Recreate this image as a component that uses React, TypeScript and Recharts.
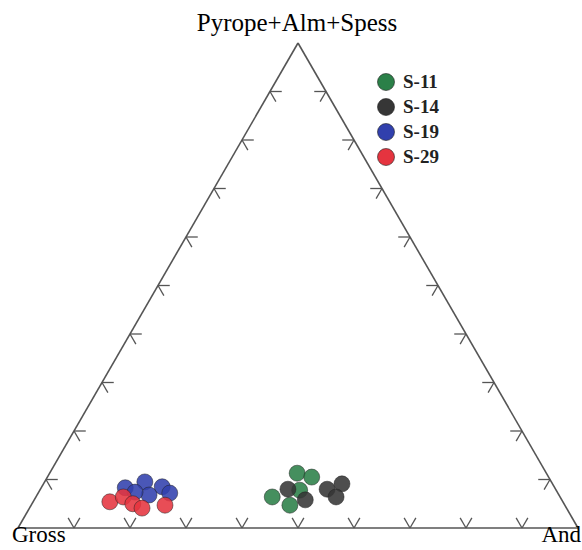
import React from "react";
import { ReferenceLine, Scatter, ScatterChart, XAxis, YAxis } from "recharts";

// ternary compositions: [Pyrope+Alm+Spess, Gross, And] in %
const S11: number[][] = [
  [11.3, 44.5, 44.2],
  [10.5, 42.3, 47.2],
  [6.4, 51.4, 42.2],
  [4.7, 49.1, 46.2],
  [7.8, 45.8, 46.4],
];
const S14: number[][] = [
  [8.0, 47.8, 44.2],
  [5.8, 45.8, 48.4],
  [8.0, 40.8, 51.2],
  [9.1, 37.6, 53.3],
  [6.4, 40.0, 53.6],
];
const S19: number[][] = [
  [8.3, 76.7, 15.0],
  [9.5, 72.6, 17.9],
  [8.5, 70.0, 21.5],
  [7.2, 69.3, 23.5],
  [6.8, 73.2, 20.0],
  [7.4, 75.4, 17.2],
];
const S29: number[][] = [
  [5.4, 80.9, 13.7],
  [6.4, 78.0, 15.6],
  [5.0, 77.0, 18.0],
  [4.1, 75.8, 20.1],
  [4.7, 71.4, 23.9],
];

const TICKS = [0.1, 0.2, 0.3, 0.4, 0.5, 0.6, 0.7, 0.8, 0.9];
const APEX_LABEL = "Pyrope+Alm+Spess";
const LEFT_LABEL = "Gross";
const RIGHT_LABEL = "And";

const SERIES = [
  { name: "S-11", data: S11, color: "#2b8048" },
  { name: "S-14", data: S14, color: "#363636" },
  { name: "S-19", data: S19, color: "#3140ad" },
  { name: "S-29", data: S29, color: "#e5343f" },
];

const H = Math.sqrt(3) / 2;
const TICK_LEN = 0.021;
const EDGE = "#555";
const FONT = '"Liberation Serif", "Times New Roman", serif';

// ternary -> cartesian (base from (0,0) to (1,0), apex at (0.5, H))
function toXY([top, , right]: number[]) {
  const t = top / 100;
  const r = right / 100;
  return { x: r + t / 2, y: t * H };
}

type Seg = [{ x: number; y: number }, { x: number; y: number }];

function tickSegments(): Seg[] {
  const segs: Seg[] = [];
  const dUL = { x: -0.5 * TICK_LEN, y: H * TICK_LEN };
  const dUR = { x: 0.5 * TICK_LEN, y: H * TICK_LEN };
  const dR = { x: TICK_LEN, y: 0 };
  const dL = { x: -TICK_LEN, y: 0 };
  const dDR = { x: 0.5 * TICK_LEN, y: -H * TICK_LEN };
  const dDL = { x: -0.5 * TICK_LEN, y: -H * TICK_LEN };
  const add = (p: { x: number; y: number }, d: { x: number; y: number }) =>
    segs.push([p, { x: p.x + d.x, y: p.y + d.y }]);
  TICKS.forEach((f) => {
    const b = { x: f, y: 0 };
    add(b, dUL);
    add(b, dUR);
    const l = { x: f / 2, y: f * H };
    add(l, dR);
    add(l, dDR);
    const r = { x: 1 - f / 2, y: f * H };
    add(r, dL);
    add(r, dDL);
  });
  return segs;
}

const EDGES: Seg[] = [
  [{ x: 0, y: 0 }, { x: 1, y: 0 }],
  [{ x: 0, y: 0 }, { x: 0.5, y: H }],
  [{ x: 1, y: 0 }, { x: 0.5, y: H }],
];

function Dot({ cx, cy, fill }: { cx?: number; cy?: number; fill?: string }) {
  if (cx == null || cy == null) return null;
  return (
    <circle cx={cx} cy={cy} r={8} fill={fill} fillOpacity={0.88} stroke="#222" strokeOpacity={0.5} strokeWidth={1} />
  );
}

export default function App() {
  const ticks = tickSegments();
  return (
    <div style={{ position: "relative", width: 582, height: 550, background: "#fff", fontFamily: FONT, overflow: "hidden" }}>
      <style>{`body{margin:0}`}</style>
      <ScatterChart width={582} height={550} margin={{ top: 43, right: 4, bottom: 22, left: 18 }}>
        <XAxis type="number" dataKey="x" domain={[0, 1]} hide />
        <YAxis type="number" dataKey="y" domain={[0, H]} hide />
        {EDGES.map((s, i) => (
          <ReferenceLine key={`e${i}`} segment={s} stroke={EDGE} strokeWidth={1.6} ifOverflow="visible" />
        ))}
        {ticks.map((s, i) => (
          <ReferenceLine key={`t${i}`} segment={s} stroke={EDGE} strokeWidth={1.3} ifOverflow="visible" />
        ))}
        {SERIES.map((s) => (
          <Scatter
            key={s.name}
            name={s.name}
            data={s.data.map(toXY)}
            fill={s.color}
            shape={<Dot />}
            isAnimationActive={false}
          />
        ))}
      </ScatterChart>
      <div style={{ position: "absolute", left: 0, width: 594, top: 8, textAlign: "center", fontSize: 25, lineHeight: "30px" }}>
        {APEX_LABEL}
      </div>
      <div style={{ position: "absolute", left: 12, top: 522, fontSize: 23, lineHeight: "26px" }}>{LEFT_LABEL}</div>
      <div style={{ position: "absolute", right: 1, top: 522, fontSize: 23, lineHeight: "26px" }}>{RIGHT_LABEL}</div>
      <div style={{ position: "absolute", left: 376, top: 69 }}>
        {SERIES.map((s) => (
          <div key={s.name} style={{ display: "flex", alignItems: "center", height: 25 }}>
            <svg width={20} height={20} style={{ marginRight: 7 }}>
              <circle cx={10} cy={10} r={8.5} fill={s.color} stroke="#222" strokeOpacity={0.6} />
            </svg>
            <span style={{ fontSize: 19, fontWeight: "bold", color: "#222" }}>{s.name}</span>
          </div>
        ))}
      </div>
    </div>
  );
}
